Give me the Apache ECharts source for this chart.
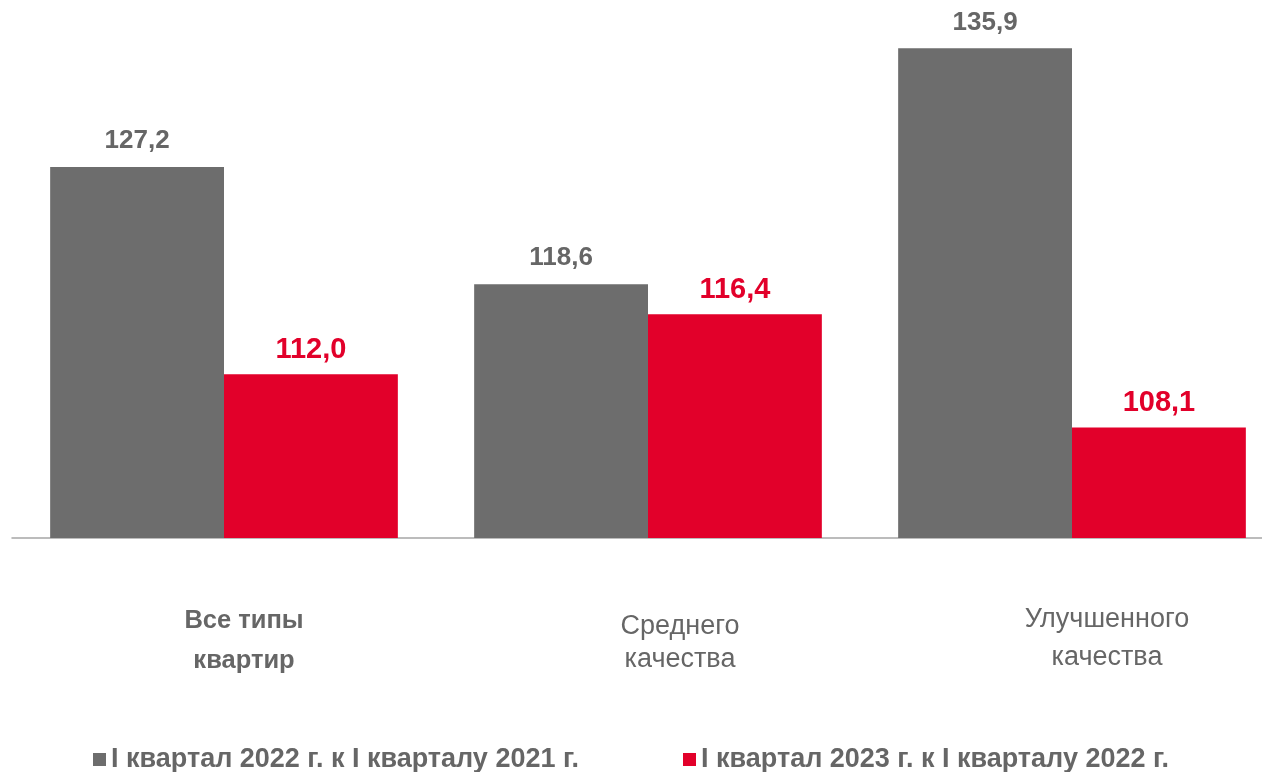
<!DOCTYPE html>
<html>
<head>
<meta charset="utf-8">
<script src="https://cdn.jsdelivr.net/npm/echarts@6/dist/echarts.min.js"></script>
<style>
  html, body { margin: 0; padding: 0; background: #fff; }
  #chartMain { width: 1262px; height: 772px; }
</style>
</head>
<body>
<div id="chartMain"></div>
<script>
// данные
var categories = ['Все типы\nквартир', 'Среднего\nкачества', 'Улучшенного\nкачества'];
var seriesNames = ['I квартал 2022 г. к I кварталу 2021 г.', 'I квартал 2023 г. к I кварталу 2022 г.'];
var values2022 = [127.2, 118.6, 135.9];
var values2023 = [112.0, 116.4, 108.1];

var grayColor = '#6d6d6d';
var redColor = '#e2002a';
var textColor = '#666666';
var fontName = 'Liberation Sans, Arial, sans-serif';

// стиль подписи для каждой категории и нужен ли верхний отступ
var labelStyles = ['c0', 'c1', 'c2'];
var labelSpacer = [false, true, false];

function fmt(v) {
    return v.toFixed(1).replace('.', ',');
}

var option = {
    backgroundColor: '#ffffff',
    animation: false,
    grid: {
        left: 12,
        width: 1272,
        top: 47,
        bottom: 234,
        outerBoundsMode: 'none'
    },
    legend: {
        bottom: -6,
        left: 'center',
        itemWidth: 13,
        itemHeight: 13,
        itemGap: 104,
        icon: 'rect',
        data: seriesNames,
        textStyle: {
            color: textColor,
            fontSize: 27,
            fontWeight: 'bold',
            fontFamily: fontName
        }
    },
    xAxis: {
        type: 'category',
        data: categories,
        axisTick: { show: false },
        axisLine: { lineStyle: { color: '#a6a6a6', width: 1.5 } },
        axisLabel: {
            interval: 0,
            margin: 63,
            formatter: function (value, idx) {
                var st = labelStyles[idx];
                var lines = value.split('\n').map(function (s) {
                    return '{' + st + '|' + s + '}';
                });
                if (labelSpacer[idx]) {
                    lines.unshift('{sp| }');
                }
                return lines.join('\n');
            },
            rich: {
                sp: { fontSize: 1, lineHeight: 9 },
                c0: { fontSize: 25.5, fontWeight: 'bold', color: textColor, lineHeight: 40, padding: [0, 0, 0, 40], fontFamily: fontName },
                c1: { fontSize: 27, color: textColor, lineHeight: 33, padding: [0, 0, 0, 64], fontFamily: fontName },
                c2: { fontSize: 27, color: textColor, lineHeight: 38, padding: [0, 0, 0, 70], fontFamily: fontName }
            }
        }
    },
    yAxis: {
        type: 'value',
        min: 100,
        max: 136,
        show: false,
        splitLine: { show: false }
    },
    series: [
        {
            name: seriesNames[0],
            type: 'bar',
            data: values2022,
            barGap: '0%',
            barCategoryGap: '18%',
            itemStyle: { color: grayColor },
            label: {
                show: true,
                position: 'top',
                distance: 13,
                color: textColor,
                fontSize: 26,
                fontWeight: 'bold',
                fontFamily: fontName,
                formatter: function (p) { return fmt(p.value); }
            }
        },
        {
            name: seriesNames[1],
            type: 'bar',
            data: values2023,
            barGap: '0%',
            barCategoryGap: '18%',
            itemStyle: { color: redColor },
            label: {
                show: true,
                position: 'top',
                distance: 10,
                color: redColor,
                fontSize: 29,
                fontWeight: 'bold',
                fontFamily: fontName,
                formatter: function (p) { return fmt(p.value); }
            }
        }
    ]
};

var mychart = echarts.init(document.getElementById('chartMain'));
mychart.setOption(option);
</script>
</body>
</html>
